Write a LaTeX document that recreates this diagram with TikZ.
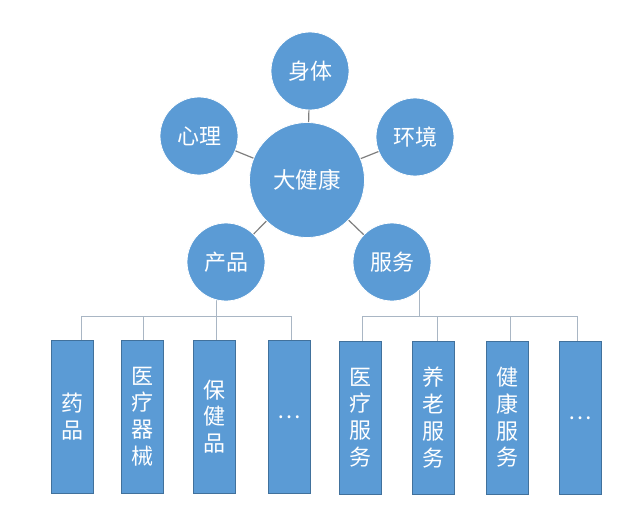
\documentclass[tikz,border=0pt]{standalone}
\usepackage{fontspec}
\setmainfont{Noto Sans CJK SC}
\usetikzlibrary{backgrounds}
\definecolor{blu}{HTML}{5B9BD5}
\definecolor{bxline}{HTML}{41719C}
\definecolor{starline}{HTML}{7F7F7F}
\definecolor{treeline}{HTML}{A9B6C4}
\begin{document}
\begin{tikzpicture}[x=1pt,y=-1pt,
  circ/.style={circle,fill=blu,draw=white,line width=0.8pt,minimum size=78pt,inner sep=0pt,text=white,font=\fontsize{22}{24}\selectfont},
  bigcirc/.style={circ,minimum size=115pt,font=\fontsize{22.5}{24}\selectfont},
  bx/.style={rectangle,fill=blu,draw=bxline,line width=0.8pt,minimum width=42pt,minimum height=153pt,inner sep=0pt,text=white,align=center,font=\fontsize{22}{26.7}\selectfont},
  star/.style={draw=starline,line width=1.2pt},
  tree/.style={draw=treeline,line width=1pt}]
\useasboundingbox (0,0) rectangle (632,511);
% circles
\node[bigcirc] (c) at (307,180) {大健康};
\node[circ] (sh) at (310,71) {身体};
\node[circ] (xl) at (199,136) {心理};
\node[circ] (hj) at (415,137) {环境};
\node[circ] (cp) at (226,262) {产品};
\node[circ] (fw) at (392,262) {服务};
% boxes
\node[bx] (b1) at (72,416.5) {药\\品};
\node[bx] (b2) at (142,416.5) {医\\疗\\器\\械};
\node[bx] (b3) at (214.5,416.5) {保\\健\\品};
\node[bx] (b4) at (289,416.5) {\raisebox{-4pt}{…}};
\node[bx] (b5) at (360.5,417.5) {医\\疗\\服\\务};
\node[bx] (b6) at (433.5,417.5) {养\\老\\服\\务};
\node[bx] (b7) at (507,417.5) {健\\康\\服\\务};
\node[bx] (b8) at (580.5,417.5) {\raisebox{-4pt}{…}};
% star connectors
\draw[star] (c) -- (sh);
\draw[star] (c) -- (xl);
\draw[star] (c) -- (hj);
\draw[star] (c) -- (cp);
\draw[star] (c) -- (fw);
% trees
\coordinate (lj) at (216,316);
\coordinate (l1) at (81,316);
\coordinate (l2) at (143,316);
\coordinate (l4) at (291,316);
\coordinate (rj) at (419,316);
\coordinate (r1) at (362,316);
\coordinate (r2) at (437,316);
\coordinate (r3) at (510,316);
\coordinate (r4) at (577,316);
\begin{scope}[on background layer]
\fill[white] (0,0) rectangle (632,511);
\draw[tree] (lj |- cp) -- (lj);
\draw[tree] (l1) -- (l4);
\draw[tree] (l1) -- (l1 |- b1.north);
\draw[tree] (l2) -- (l2 |- b2.north);
\draw[tree] (lj) -- (lj |- b3.north);
\draw[tree] (l4) -- (l4 |- b4.north);
\draw[tree] (rj |- fw) -- (rj);
\draw[tree] (r1) -- (r4);
\draw[tree] (r1) -- (r1 |- b5.north);
\draw[tree] (r2) -- (r2 |- b6.north);
\draw[tree] (r3) -- (r3 |- b7.north);
\draw[tree] (r4) -- (r4 |- b8.north);
\end{scope}
\end{tikzpicture}
\end{document}
